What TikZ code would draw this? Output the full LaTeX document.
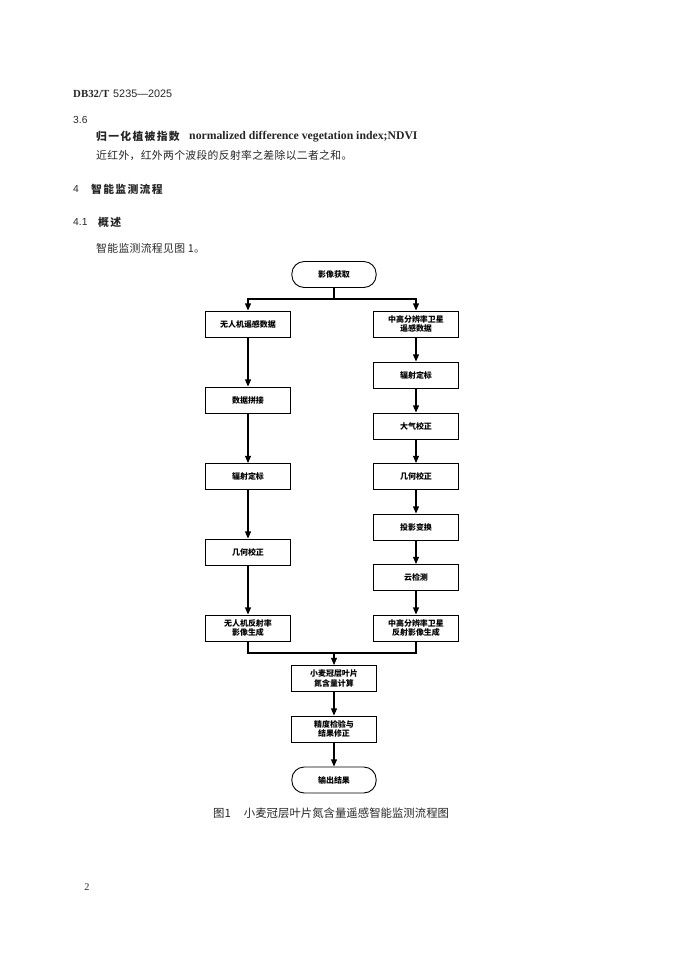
\documentclass[tikz,border=0pt]{standalone}
\usepackage{fontspec}
\setmainfont{Liberation Serif}
\setsansfont{Liberation Sans}
\newfontfamily\cjk{Noto Sans CJK SC}
\newfontfamily\cjkbody{Noto Sans CJK SC}[LetterSpace=3]
\newfontfamily\cjkhead{Noto Sans CJK SC}[LetterSpace=12]
\usetikzlibrary{arrows.meta}
\tikzset{
	box/.style={draw, line width=0.8pt, minimum width=26mm, minimum height=8mm, inner sep=1pt, align=center, font=\cjk\bfseries\fontsize{7}{8.5}\selectfont},
	term/.style={box, rounded corners=3.8mm},
	arr/.style={line width=1.1pt, -{Triangle[length=2.2mm,width=1.8mm]}},
	line/.style={line width=1.1pt},
	txt/.style={anchor=west, inner sep=0pt, text=black!85, font=\cjkbody\fontsize{9.5}{11}\selectfont},
	head/.style={txt, font=\cjkhead\bfseries\fontsize{9.5}{11}\selectfont},
	num/.style={txt, font=\sffamily\fontsize{9}{11}\selectfont}
}

\begin{document}
\begin{tikzpicture}[x=0.3084mm, y=-0.3084mm]
		%%%%% START %%%%%
		
		\useasboundingbox (0, 0) rectangle (681, 955);
		
		\node[txt, font=\bfseries\fontsize{9.5}{11}\selectfont] (code) at (73, 94) {DB32/T\hspace{1.2mm}\textsf{\mdseries 5235—2025}};
		\node[num] (s36) at (73, 119.5) {3.6};
		\node[head] (term) at (96, 136.5) {归一化植被指数};
		\node[txt, font=\bfseries\fontsize{10.3}{12}\selectfont] (eng) at (189, 136.5) {normalized difference vegetation index;NDVI};
		\node[txt] (def) at (96, 155) {近红外，红外两个波段的反射率之差除以二者之和。};
		
		\node[num] (s4) at (73, 189) {4};
		\node[head] (h4) at (91, 189) {智能监测流程};
		\node[num] (s41) at (73, 222) {4.1};
		\node[head] (h41) at (98, 222) {概述};
		\node[txt] (see) at (96, 248) {智能监测流程见图 1。};
		
		% flow chart
		\node[term] (start) at (334, 274.5) {影像获取};
		\coordinate (split) at (334, 299);
		
		\node[box] (uav) at (248, 324) {无人机遥感数据};
		\node[box] (mosaic) at (248, 400) {数据拼接};
		\node[box] (radL) at (248, 476.5) {辐射定标};
		\node[box] (geoL) at (248, 552) {几何校正};
		\node[box] (uavref) at (248, 628) {无人机反射率\\影像生成};
		
		\node[box] (sat) at (416, 324) {中高分辨率卫星\\遥感数据};
		\node[box] (radR) at (416, 375) {辐射定标};
		\node[box] (atm) at (416, 426) {大气校正};
		\node[box] (geoR) at (416, 476.5) {几何校正};
		\node[box] (proj) at (416, 527) {投影变换};
		\node[box] (cloud) at (416, 577.5) {云检测};
		\node[box] (satref) at (416, 628) {中高分辨率卫星\\反射影像生成};
		
		\coordinate (merge) at (334, 653);
		\node[box] (calc) at (334, 678.5) {小麦冠层叶片\\氮含量计算};
		\node[box] (acc) at (334, 729) {精度检验与\\结果修正};
		\node[term] (stop) at (334, 780) {输出结果};
		
		\draw[line] (start) -- (split);
		\draw[arr] (split) -| (uav);
		\draw[arr] (split) -| (sat);
		
		\draw[arr] (uav) -- (mosaic);
		\draw[arr] (mosaic) -- (radL);
		\draw[arr] (radL) -- (geoL);
		\draw[arr] (geoL) -- (uavref);
		
		\draw[arr] (sat) -- (radR);
		\draw[arr] (radR) -- (atm);
		\draw[arr] (atm) -- (geoR);
		\draw[arr] (geoR) -- (proj);
		\draw[arr] (proj) -- (cloud);
		\draw[arr] (cloud) -- (satref);
		
		\draw[line] (uavref) |- (merge);
		\draw[line] (satref) |- (merge);
		\draw[arr] (merge) -- (calc);
		\draw[arr] (calc) -- (acc);
		\draw[arr] (acc) -- (stop);
		
		\node[txt, font=\cjk\fontsize{10}{12}\selectfont] (cap) at (213, 813) {图1\hspace{4mm}小麦冠层叶片氮含量遥感智能监测流程图};
		
		\node[font=\fontsize{9}{10}\selectfont, text=black!85] (page) at (87, 887) {2};
		
		%%%%% END %%%%%
	\end{tikzpicture}
\end{document}
